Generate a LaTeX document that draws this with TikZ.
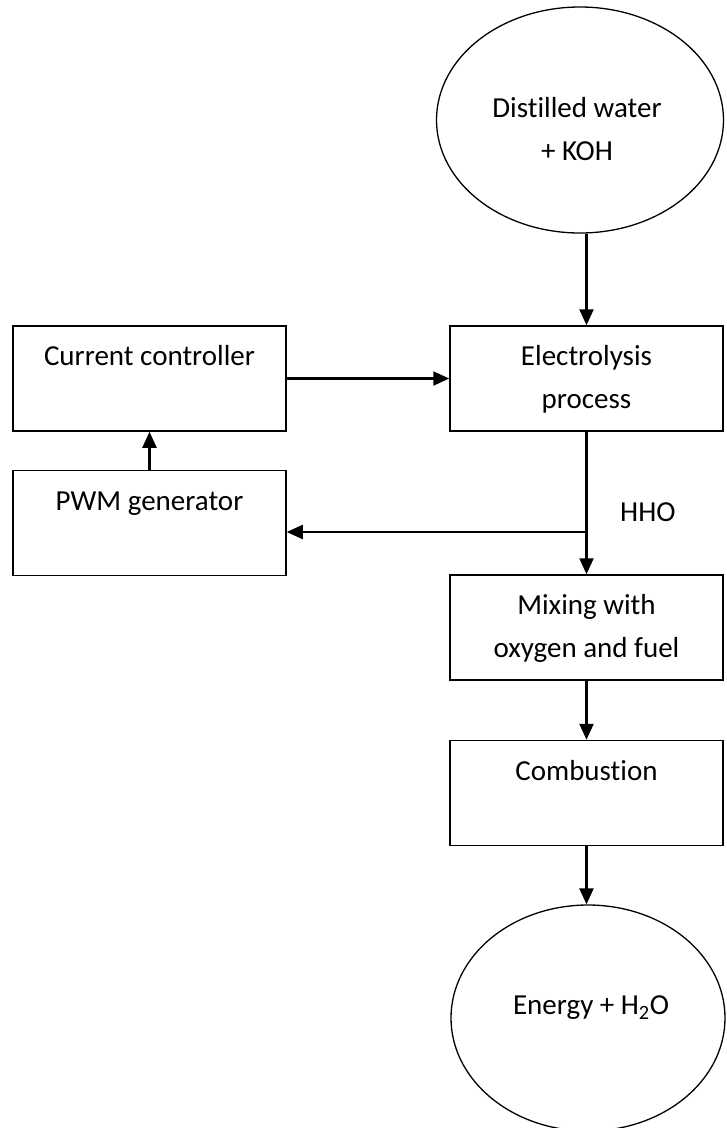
\documentclass[tikz,border=0pt]{standalone}
\usepackage{fontspec}
\setmainfont{Carlito}[Ligatures=NoCommon]
\usetikzlibrary{arrows.meta,shapes.geometric}
\newcommand{\nolig}{\kern0pt}
\begin{document}
\begin{tikzpicture}[x=1pt,y=-1pt,
  box/.style={draw, line width=1.5pt, minimum width=273pt, minimum height=105pt, inner sep=0pt, align=center, font=\fontsize{29}{43}\selectfont},
  ellip/.style={draw, ellipse, line width=1.3pt, inner sep=0pt},
  txt/.style={align=center, inner sep=0pt, font=\fontsize{29}{43}\selectfont},
  arr/.style={line width=2.3pt, -{Triangle[length=16pt,width=14pt]}}]
\useasboundingbox (0,0) rectangle (727,1128);

% top ellipse
\node[ellip, minimum width=287pt, minimum height=226pt] (water) at (580,120) {};
\node[txt] (watertxt) at (577,130) {Dist\nolig illed water\strut\\+ KOH\strut};

% boxes
\node[box] (elec) at (586.5,378.5) {Electrolysis\strut\\process\strut};
\node[box] (curr) at (149.5,378.5) {Current controller\strut\\\strut};
\node[box] (pwm)  at (149.5,523) {PWM generator\strut\\\strut};
\node[box] (mix)  at (586.5,627.5) {Mixing with\strut\\oxygen and fuel\strut};
\node[box] (comb) at (586.5,793) {Combust\nolig ion\strut\\\strut};

% bottom ellipse
\node[ellip, minimum width=274pt, minimum height=226pt] (energy) at (588,1018) {};
\node[txt] (energytxt) at (591,1006) {Energy + H\textsubscript{2}O\strut};

% label
\node[txt, anchor=west] (hho) at (620,513) {HHO\strut};

% connectors
\draw[arr] (elec.north |- water.south) -- (elec.north);
\draw[arr] (curr.east) -- (elec.west);
\draw[arr] (pwm.north) -- (curr.south);
\coordinate (j) at (elec.south |- 0,532);
\draw[arr] (elec.south) -- (mix.north);
\draw[arr] (j) -- (pwm.east |- j);
\draw[arr] (mix.south) -- (comb.north);
\draw[arr] (comb.south) -- (energy.north -| comb.south);
\end{tikzpicture}
\end{document}
